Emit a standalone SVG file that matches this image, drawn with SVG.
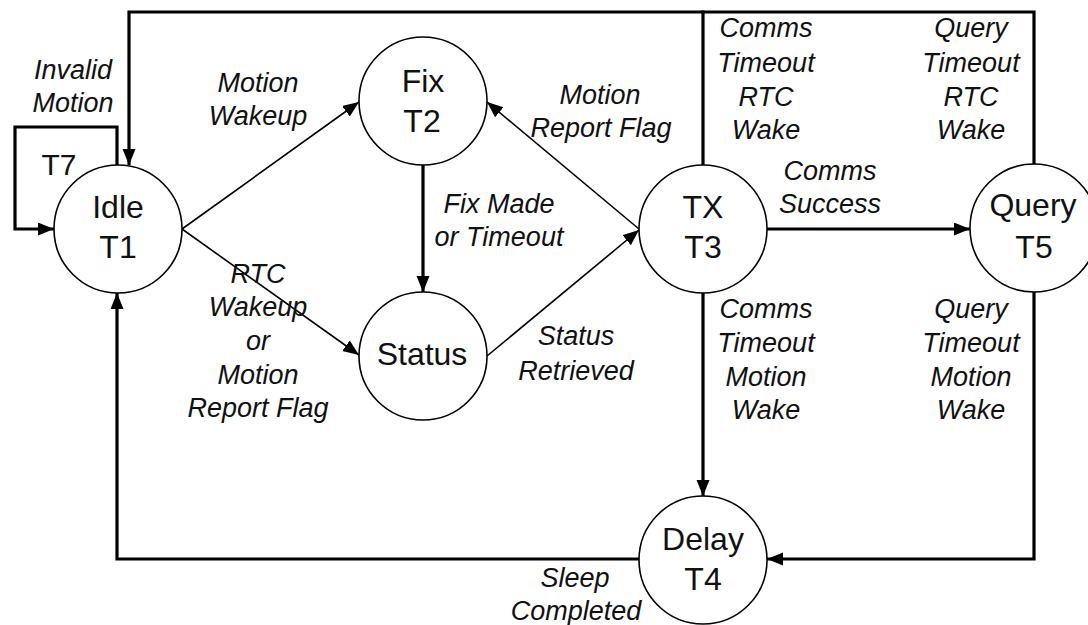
<svg xmlns="http://www.w3.org/2000/svg" width="1088" height="625" viewBox="0 0 1088 625">
<style>
.node circle{fill:#fff;stroke:#000;stroke-width:1.6}
.nt{font-family:"Liberation Sans",Arial,sans-serif;font-size:32px;fill:#111;text-anchor:middle}
.lb{font-family:"Liberation Sans",Arial,sans-serif;font-size:27px;font-style:italic;fill:#111;text-anchor:middle}
.thin{fill:none;stroke:#000;stroke-width:1.6;marker-end:url(#ah)}
.thick{fill:none;stroke:#000;stroke-width:3.2}
.thick.arr{marker-end:url(#ah)}
</style>
<defs>
<marker id="ah" markerUnits="userSpaceOnUse" markerWidth="18" markerHeight="14" refX="16" refY="6.5" orient="auto">
<path d="M0,0 L16,6.5 L0,13 z" fill="#000"/>
</marker>
</defs>
<rect width="1088" height="625" fill="#fff"/>
<g id="connectors">
<path class="thick arr" d="M703,165 V12 H129 V165"/>
<path class="thick" d="M1034,164 V12 H701"/>
<path class="thick arr" d="M117,165 V127 H15 V229 H54"/>
<path class="thin" d="M182,229 L359,102"/>
<path class="thin" d="M182,229 L359,355"/>
<path class="thick arr" d="M423,165 V292"/>
<path class="thin" d="M639,229 L487,102"/>
<path class="thin" d="M487,356 L639,230"/>
<path class="thick arr" d="M767,229 H970"/>
<path class="thick arr" d="M703,293 V496"/>
<path class="thick arr" d="M1034,292 V559 H767"/>
<path class="thick arr" d="M640,559 H117 V293"/>
</g>
<g id="labels">
<text class="lb" x="73" y="79">Invalid</text>
<text class="lb" x="73" y="112">Motion</text>
<text class="nt" x="59" y="175" style="font-size:30px">T7</text>
<text class="lb" x="258" y="92">Motion</text>
<text class="lb" x="258" y="125">Wakeup</text>
<text class="lb" x="600" y="104">Motion</text>
<text class="lb" x="601" y="137">Report Flag</text>
<text class="lb" x="499" y="213">Fix Made</text>
<text class="lb" x="499" y="246">or Timeout</text>
<text class="lb" x="258" y="283">RTC</text>
<text class="lb" x="258" y="316">Wakeup</text>
<text class="lb" x="258" y="350">or</text>
<text class="lb" x="258" y="384">Motion</text>
<text class="lb" x="258" y="417">Report Flag</text>
<text class="lb" x="576" y="345">Status</text>
<text class="lb" x="576" y="380">Retrieved</text>
<text class="lb" x="766" y="37">Comms</text>
<text class="lb" x="766" y="72">Timeout</text>
<text class="lb" x="766" y="106">RTC</text>
<text class="lb" x="766" y="139">Wake</text>
<text class="lb" x="971" y="37">Query</text>
<text class="lb" x="971" y="72">Timeout</text>
<text class="lb" x="971" y="106">RTC</text>
<text class="lb" x="971" y="139">Wake</text>
<text class="lb" x="830" y="180">Comms</text>
<text class="lb" x="830" y="213">Success</text>
<text class="lb" x="766" y="318">Comms</text>
<text class="lb" x="766" y="352">Timeout</text>
<text class="lb" x="766" y="386">Motion</text>
<text class="lb" x="766" y="419">Wake</text>
<text class="lb" x="971" y="318">Query</text>
<text class="lb" x="971" y="352">Timeout</text>
<text class="lb" x="971" y="386">Motion</text>
<text class="lb" x="971" y="419">Wake</text>
<text class="lb" x="575" y="587">Sleep</text>
<text class="lb" x="576" y="620">Completed</text>
</g>
<g id="node-idle" class="node"><circle cx="118" cy="229" r="64"/><text class="nt" x="118" y="218">Idle</text><text class="nt" x="118" y="258">T1</text></g>
<g id="node-fix" class="node"><circle cx="423" cy="101" r="64"/><text class="nt" x="423" y="92">Fix</text><text class="nt" x="422" y="132">T2</text></g>
<g id="node-status" class="node"><circle cx="423" cy="356" r="64"/><text class="nt" x="422" y="365">Status</text></g>
<g id="node-tx" class="node"><circle cx="703" cy="229" r="64"/><text class="nt" x="703" y="218">TX</text><text class="nt" x="703" y="258">T3</text></g>
<g id="node-query" class="node"><circle cx="1034" cy="228" r="64"/><text class="nt" x="1033" y="216">Query</text><text class="nt" x="1034" y="258">T5</text></g>
<g id="node-delay" class="node"><circle cx="703" cy="560" r="64"/><text class="nt" x="703" y="550">Delay</text><text class="nt" x="703" y="590">T4</text></g>
</svg>
